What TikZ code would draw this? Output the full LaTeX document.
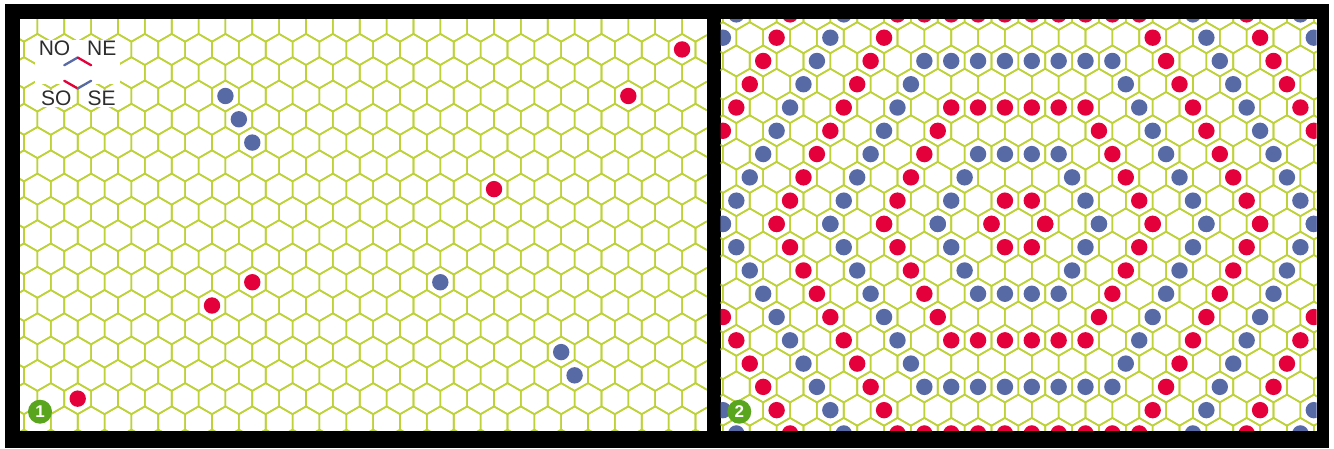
\documentclass[tikz,border=0pt]{standalone}
\usepackage{fontspec}
\setmainfont{Liberation Sans}
\usepackage{tikz}
\usetikzlibrary{calc}
\definecolor{hexgreen}{RGB}{188,210,55}
\definecolor{dotred}{RGB}{228,0,58}
\definecolor{dotblue}{RGB}{88,106,166}
\definecolor{badgegreen}{RGB}{90,165,30}
\definecolor{labelgray}{RGB}{45,45,45}
\tikzset{
  hexline/.style={draw=hexgreen, line width=1.6pt, line join=round},
  panel/.style={fill=white},
  badge/.style={circle, fill=badgegreen, minimum size=24pt, inner sep=0pt,
    text=white, font=\fontsize{17}{17}\selectfont\bfseries},
  dirlabel/.style={font=\fontsize{21}{21}\selectfont, text=labelgray, inner sep=0pt},
  legendedge/.style={line width=2.3pt, line cap=round}
}
% one hexagon (pointy top) around the current point
\newcommand{\hexcell}[2]{%
  \draw[hexline] (#1,#2) +(13.43,-7.755) -- +(0,-15.51) -- +(-13.43,-7.755)
    -- +(-13.43,7.755) -- +(0,15.51) -- +(13.43,7.755) -- cycle;}

\begin{document}
\begin{tikzpicture}[x=1pt, y=-1pt]
  \useasboundingbox (0,0) rectangle (1334,448);

  % Frame and the two panels
  \fill[black] (5,4) rectangle (1329,448);
  \fill[panel] (20,19) rectangle (706.7,430.7);
  \fill[panel] (720.7,19) rectangle (1316.7,430.7);

  % Left grid
  \begin{scope}
    \clip (20,19) rectangle (706.7,430.7);
    \foreach \j in {0,...,19}{
      \foreach \k in {-3,...,23}{
        \pgfmathsetmacro\cx{77.7+13.43*(1-mod(\j,2))+26.86*\k}
        \pgfmathsetmacro\cy{2.88+23.28*\j}
        \hexcell{\cx}{\cy}
      }
    }
    % moving particles, state 1
    \foreach \k/\j/\c in {22/-2/dotred, 20/0/dotred, 5/0/dotblue, 6/1/dotblue,
        6/2/dotblue, 15/4/dotred, 6/8/dotred, 13/8/dotblue, 5/9/dotred,
        18/11/dotblue, 18/12/dotblue, 0/13/dotred}{
      \pgfmathsetmacro\cx{77.7+13.43*(1-mod(abs(\j),2))+26.86*\k}
      \pgfmathsetmacro\cy{96+23.28*\j}
      \fill[\c] (\cx,\cy) circle (8.2pt);
    }
  \end{scope}

  % Right grid
  \begin{scope}
    \clip (720.7,19) rectangle (1316.7,430.7);
    \foreach \r in {0,...,18}{
      \foreach \n in {-1,...,22}{
        \pgfmathsetmacro\cx{722.9+13.43*(1-mod(\r,2))+26.86*\n}
        \pgfmathsetmacro\cy{14.4+23.28*\r}
        \hexcell{\cx}{\cy}
      }
    }
    % state 2, rows r and 18-r are the same
    \foreach \r/\bl/\rd in {
        0/{0,4,17,21}/{2,6,7,8,9,10,11,12,13,14,15,19},
        1/{0,4,18,22}/{2,6,16,20},
        2/{3,7,8,9,10,11,12,13,14,18}/{1,5,16,20},
        3/{3,7,15,19}/{1,5,17,21},
        4/{2,6,15,19}/{0,4,8,9,10,11,12,13,17,21},
        5/{2,6,16,20}/{0,4,8,14,18,22},
        6/{1,5,9,10,11,12,16,20}/{3,7,14,18},
        7/{1,5,9,13,17,21}/{3,7,15,19},
        8/{0,4,8,13,17,21}/{2,6,10,11,15,19},
        9/{0,4,8,14,18,22}/{2,6,10,12,16,20}}{
      \pgfmathsetmacro\cy{14.4+23.28*\r}
      \pgfmathsetmacro\cyy{14.4+23.28*(18-\r)}
      \foreach \n in \bl{
        \pgfmathsetmacro\cx{722.9+13.43*(1-mod(\r,2))+26.86*\n}
        \fill[dotblue] (\cx,\cy) circle (8.2pt);
        \fill[dotblue] (\cx,\cyy) circle (8.2pt);
      }
      \foreach \n in \rd{
        \pgfmathsetmacro\cx{722.9+13.43*(1-mod(\r,2))+26.86*\n}
        \fill[dotred] (\cx,\cy) circle (8.2pt);
        \fill[dotred] (\cx,\cyy) circle (8.2pt);
      }
    }
  \end{scope}

  % Legend: the four directions
  \fill[white] (35,40) rectangle (120,84);
  \coordinate (legtop) at (77.7,57.5);
  \coordinate (legul) at (64.27,65.25);
  \coordinate (legur) at (91.13,65.25);
  \coordinate (legll) at (64.27,80.75);
  \coordinate (leglr) at (91.13,80.75);
  \coordinate (legbot) at (77.7,88.5);
  \draw[legendedge, dotblue] (legul) -- (legtop);
  \draw[legendedge, dotred] (legtop) -- (legur);
  \draw[legendedge, dotred] (legll) -- (legbot);
  \draw[legendedge, dotblue] (legbot) -- (leglr);
  \node[dirlabel] (lblNO) at (54.5,48.3) {NO};
  \node[dirlabel] (lblNE) at (101.7,48.3) {NE};
  \node[dirlabel, fill=white, inner sep=1pt] (lblSO) at (56.2,98.7) {SO};
  \node[dirlabel, fill=white, inner sep=1pt] (lblSE) at (101.7,98.7) {SE};

  % Step badges
  \node[badge] (stepone) at (40,411.7) {1};
  \node[badge] (steptwo) at (739.3,411.7) {2};
\end{tikzpicture}
\end{document}
